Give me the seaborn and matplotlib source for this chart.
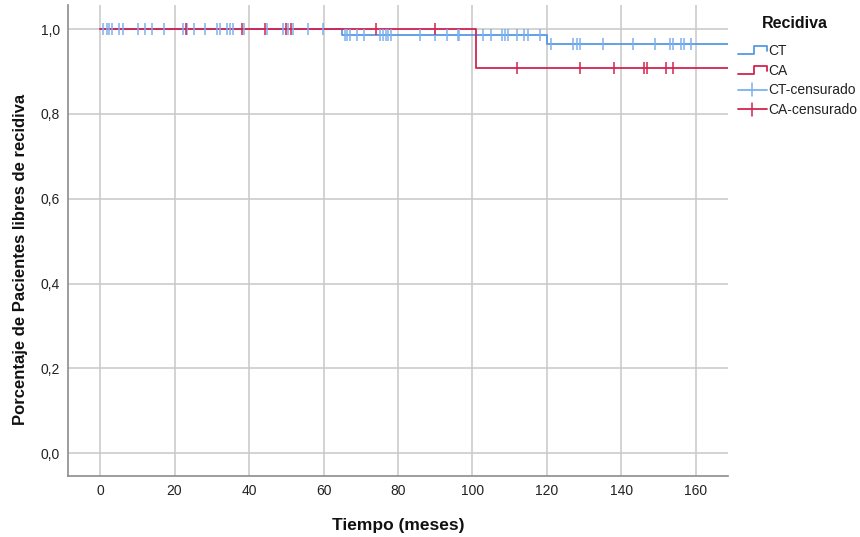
import numpy as np
import pandas as pd
import matplotlib
matplotlib.use("Agg")
import matplotlib.pyplot as plt
import seaborn as sns
from matplotlib.lines import Line2D
from matplotlib.legend_handler import HandlerBase
from matplotlib.ticker import FuncFormatter

# survival steps
ct_times = [0, 65, 120, 170]
ct_surv = [1.0, 0.986, 0.964, 0.964]
ca_times = [0, 101, 170]
ca_surv = [1.0, 0.909, 0.909]

# censored observations (months)
ct_cens = [0.9, 1.8, 2.5, 3.3, 5.2, 6.1, 10.3, 12.1, 14.0, 17.2, 22.2, 23.4, 25.2,
           28.2, 31.3, 32.2, 34.0, 34.9, 35.8, 38.7, 44.9, 49.0, 50.6, 51.9, 55.9,
           59.9, 65.8, 66.4, 67.1, 69.1, 71.0, 75.2, 75.9, 76.7, 77.4, 78.1, 85.9,
           89.9, 93.1, 96.0, 96.3, 102.9, 105.0, 108.0, 108.7, 109.4, 111.9, 113.9,
           114.8, 118.1, 121.1, 127.1, 128.0, 128.9, 135.0, 143.0, 149.0, 153.0,
           153.8, 156.0, 156.9, 158.8]
ca_cens = [23.1, 38.0, 44.3, 49.9, 51.3, 74.1, 90.0, 111.9, 128.9, 138.0, 146.0,
           146.9, 151.9, 153.7]

groups = ["CT", "CA"]
x_ticks = [0, 20, 40, 60, 80, 100, 120, 140, 160]
y_ticks = [0.0, 0.2, 0.4, 0.6, 0.8, 1.0]

blue = "#5598E6"
blue_c = "#7DB0EE"
red = "#D3234F"


def surv_at(t, times, surv):
    i = np.searchsorted(times, t, side="right") - 1
    return np.array(surv)[i]


steps = pd.DataFrame({
    "t": ct_times + ca_times,
    "s": ct_surv + ca_surv,
    "g": ["CT"] * len(ct_times) + ["CA"] * len(ca_times),
})
cens = pd.DataFrame({
    "t": ct_cens + ca_cens,
    "s": list(surv_at(ct_cens, ct_times, ct_surv)) + list(surv_at(ca_cens, ca_times, ca_surv)),
    "g": ["CT"] * len(ct_cens) + ["CA"] * len(ca_cens),
})

sns.set_theme(style="whitegrid")
plt.rcParams["font.family"] = ["Liberation Sans", "DejaVu Sans"]

fig = plt.figure(figsize=(8.6, 5.37), dpi=100)
ax = fig.add_axes([68 / 860, 61 / 537, 660 / 860, 471 / 537])

sns.lineplot(data=steps, x="t", y="s", hue="g", hue_order=groups,
             palette={"CT": blue, "CA": red}, drawstyle="steps-post",
             estimator=None, linewidth=1.3, legend=False, ax=ax)
for g, c in [("CT", blue_c), ("CA", red)]:
    sub = cens[cens["g"] == g]
    ax.scatter(sub["t"], sub["s"], marker="|", s=70, color=c, linewidths=1.1, zorder=3)

ax.set_xlim(-8.6, 168.6)
ax.set_ylim(-0.054, 1.057)
ax.set_xticks(x_ticks)
ax.set_yticks(y_ticks)
ax.yaxis.set_major_formatter(FuncFormatter(lambda v, p: f"{v:.1f}".replace(".", ",")))
ax.tick_params(labelsize=10, colors="#222222", pad=6, length=0)
ax.grid(True, color="#C8C8C8", linewidth=1.1)
ax.set_facecolor("white")
for side in ["top", "right"]:
    ax.spines[side].set_visible(False)
for side in ["left", "bottom"]:
    ax.spines[side].set_color("#8C8C8C")
    ax.spines[side].set_linewidth(1.2)

ax.set_xlabel("Tiempo (meses)", fontsize=12.5, fontweight="bold", labelpad=14,
              color="#111111")
ax.set_ylabel("Porcentaje de Pacientes libres de recidiva", fontsize=12,
              fontweight="bold", color="#111111")
ax.yaxis.set_label_coords(-0.06, 0.46)


class StepHandler(HandlerBase):
    def create_artists(self, legend, orig_handle, xd, yd, w, h, fontsize, trans):
        xs = [-xd, -xd + 0.55 * w, -xd + 0.55 * w, -xd + w, -xd + w]
        ys = [-yd + 0.05 * h, -yd + 0.05 * h, -yd + 0.85 * h, -yd + 0.85 * h, -yd + 0.35 * h]
        ln = Line2D(xs, ys, color=orig_handle.get_color(), linewidth=1.3, transform=trans)
        return [ln]


class CrossHandler(HandlerBase):
    def create_artists(self, legend, orig_handle, xd, yd, w, h, fontsize, trans):
        c = orig_handle.get_color()
        hl = Line2D([-xd, -xd + w], [-yd + h / 2] * 2, color=c, linewidth=1.3, transform=trans)
        vl = Line2D([-xd + w / 2] * 2, [-yd - 0.15 * h, -yd + 1.15 * h], color=c,
                    linewidth=1.1, transform=trans)
        return [hl, vl]


h_ct = Line2D([], [], color=blue)
h_ca = Line2D([], [], color=red)
h_ctc = Line2D([], [], color=blue_c)
h_cac = Line2D([], [], color=red)
fig.text(795 / 860, 1 - 23 / 537, "Recidiva", ha="center", va="center",
         fontsize=11.5, fontweight="bold", color="#111111")
fig.legend([h_ct, h_ca, h_ctc, h_cac], ["CT", "CA", "CT-censurado", "CA-censurado"],
           handler_map={h_ct: StepHandler(), h_ca: StepHandler(),
                        h_ctc: CrossHandler(), h_cac: CrossHandler()},
           loc="upper left", bbox_to_anchor=(728 / 860, 1 - 34 / 537),
           frameon=False, fontsize=10, labelcolor="#222222",
           handlelength=2.1, handletextpad=0.1, labelspacing=0.42, borderpad=0.2)

fig.savefig("out.png", dpi=100)
